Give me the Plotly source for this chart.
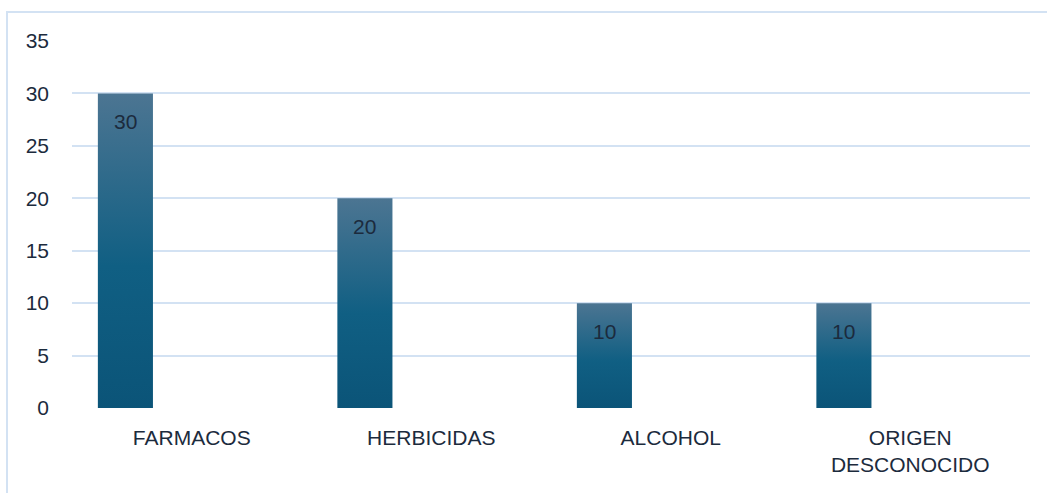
import plotly.graph_objects as go

categories = ["FARMACOS", "HERBICIDAS", "ALCOHOL", "ORIGEN<br>DESCONOCIDO"]
values = [30, 20, 10, 10]
y_ticks = [0, 5, 10, 15, 20, 25, 30, 35]

BAR_W = 0.23
BAR_OFF = -0.392
FONT = "Liberation Sans"
TXT = "#1c2b3d"
GRID = "#d3e2f3"

fig = go.Figure()
xpos = list(range(len(categories)))
for x, v in zip(xpos, values):
    x0 = x + BAR_OFF
    x1 = x0 + BAR_W
    fig.add_trace(go.Scatter(
        x=[x0, x1, x1, x0, x0], y=[0, 0, v, v, 0],
        mode="lines", fill="toself", line=dict(width=0),
        fillgradient=dict(type="vertical",
                          colorscale=[[0, "#0b5478"], [0.45, "#105f83"], [1, "#4c7592"]]),
        hoverinfo="skip", showlegend=False,
    ))
    fig.add_annotation(x=x0 + BAR_W / 2, y=v, text=str(v), showarrow=False,
                       yanchor="middle", yshift=-28,
                       font=dict(family=FONT, size=21, color=TXT))

# outer chart border
fig.add_shape(type="rect", xref="paper", yref="paper",
              x0=(7 - 72) / 958, x1=(1060 - 72) / 958,
              y0=(408 - 520) / 367, y1=(408 - 12) / 367,
              line=dict(color=GRID, width=2), layer="below")

fig.update_layout(
    width=1047, height=493,
    margin=dict(l=72, r=17, t=41, b=85),
    plot_bgcolor="white", paper_bgcolor="white",
    font=dict(family=FONT, size=21, color=TXT),
    xaxis=dict(range=[-0.5, 3.5], tickmode="array", tickvals=xpos, ticktext=categories,
               showgrid=False, zeroline=False, showline=False, ticks="",
               ticklabelstandoff=15,
               tickfont=dict(size=21, color=TXT)),
    yaxis=dict(range=[0, 35], tickmode="array", tickvals=y_ticks,
               showgrid=True, gridcolor=GRID, gridwidth=2, zeroline=False,
               showline=False, ticks="", ticklabelstandoff=22,
               tickfont=dict(size=21, color=TXT)),
)

fig.write_html("out.html")
